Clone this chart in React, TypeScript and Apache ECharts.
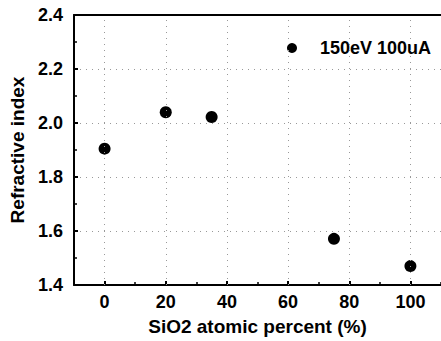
import React, { useEffect, useRef } from "react";
import * as echarts from "echarts";

const xValues = [0, 20, 35, 75, 100];
const yValues = [1.905, 2.04, 2.022, 1.571, 1.47];
const seriesName = "150eV 100uA";
const xName = "SiO2 atomic percent (%)";
const yName = "Refractive index";
const xTicks = [0, 20, 40, 60, 80, 100];

const FONT = "'Liberation Sans', Arial, sans-serif";

export default function App() {
  const ref = useRef<HTMLDivElement>(null);
  useEffect(() => {
    if (!ref.current) return;
    const chart = echarts.init(ref.current, null, { renderer: "svg" });
    const lbl = { color: "#000", fontFamily: FONT, fontSize: 18, fontWeight: "bold" as const };
    const nameLbl = { ...lbl, fontSize: 19 };
    chart.setOption({
      animation: false,
      backgroundColor: "#fff",
      grid: { left: 74, top: 15, width: 369, height: 273, containLabel: false },
      legend: {
        show: true,
        data: [seriesName],
        left: 287,
        top: 39,
        padding: 0,
        icon: "circle",
        itemWidth: 10,
        itemHeight: 10,
        textStyle: { ...lbl, padding: [0, 0, 0, 18] },
      },
      xAxis: [
        {
          type: "value",
          min: -10,
          max: 110,
          position: "bottom",
          name: xName,
          nameLocation: "middle",
          nameGap: 32,
          nameTextStyle: nameLbl,
          axisLine: { show: true, onZero: false, lineStyle: { color: "#000", width: 2 } },
          axisTick: { show: true, inside: true, length: 4, customValues: xTicks, lineStyle: { color: "#000", width: 2 } },
          axisLabel: { ...lbl, margin: 8, customValues: xTicks },
          splitLine: { show: false },
        },
        {
          type: "value",
          min: -10,
          max: 110,
          position: "top",
          axisLine: { show: true, onZero: false, lineStyle: { color: "#000", width: 2 } },
          axisTick: { show: false },
          axisLabel: { show: false },
          splitLine: { show: false },
        },
        {
          type: "value",
          min: -10,
          max: 110,
          interval: 10,
          position: "bottom",
          gridIndex: 0,
          axisLine: { show: false },
          axisTick: { show: true, inside: true, length: 3, lineStyle: { color: "#000", width: 1.5 } },
          axisLabel: { show: false },
          splitLine: { show: false },
        },
      ],
      yAxis: {
        type: "value",
        min: 1.4,
        max: 2.4,
        interval: 0.2,
        name: yName,
        nameLocation: "middle",
        nameGap: 47,
        nameTextStyle: nameLbl,
        axisLine: { show: true, onZero: false, lineStyle: { color: "#000", width: 2 } },
        axisTick: { show: true, inside: true, length: 4, lineStyle: { color: "#000", width: 2 } },
        minorTick: { show: true, splitNumber: 2, length: 3, lineStyle: { color: "#000", width: 1.5 } },
        axisLabel: { ...lbl, margin: 11, formatter: (v: number) => v.toFixed(1) },
        splitLine: { show: true, lineStyle: { color: "#999", width: 1, type: [1, 5] } },
      },
      series: [
        {
          name: seriesName,
          type: "scatter",
          xAxisIndex: 0,
          data: xValues.map((x, i) => [x, yValues[i]]),
          symbol: "circle",
          symbolSize: 12,
          itemStyle: { color: "#000", opacity: 1 },
          markLine: {
            silent: true,
            symbol: "none",
            label: { show: false },
            lineStyle: { color: "#999", width: 1, type: [1, 5] },
            data: xTicks.map((v) => ({ xAxis: v })),
          },
        },
      ],
    });
    return () => chart.dispose();
  }, []);
  return <div ref={ref} style={{ width: 441, height: 341, position: "absolute", left: 0, top: 0 }} />;
}
